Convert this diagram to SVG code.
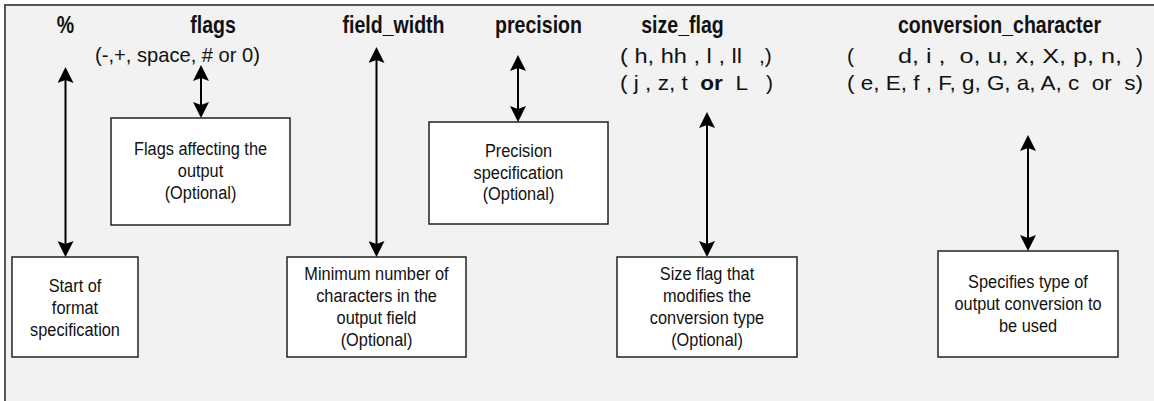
<svg xmlns="http://www.w3.org/2000/svg" width="1154" height="401" viewBox="0 0 1154 401">
<style>
.bg{fill:#f2f2f2;stroke:#555;stroke-width:2}
.box{fill:#fff;stroke:#222;stroke-width:1.5}
.hd{font-family:"Liberation Sans",Arial,sans-serif;font-size:23px;font-weight:bold;fill:#111;text-anchor:middle}
.sub{font-family:"Liberation Sans",Arial,sans-serif;font-size:21px;fill:#111;white-space:pre}
.bt{font-family:"Liberation Sans",Arial,sans-serif;font-size:19px;fill:#111;text-anchor:middle}
.b{font-weight:bold}
.conn line{stroke:#000;stroke-width:2}
</style>
<defs>
<marker id="ah" viewBox="0 0 16 16" refX="12" refY="8" markerWidth="16" markerHeight="16" markerUnits="userSpaceOnUse" orient="auto-start-reverse">
<path d="M0,0 L16,8 L0,16 L3,8 Z" fill="#000"/>
</marker>
</defs>
<rect class="bg" x="5" y="5" width="1170" height="420"/>

<g id="labels">
<text class="hd" transform="translate(65.5 33) scale(0.85 1)">%</text>
<text class="hd" transform="translate(213 33) scale(0.85 1)">flags</text>
<text class="sub" x="95" y="62" textLength="165" lengthAdjust="spacingAndGlyphs">(-,+, space, # or 0)</text>
<text class="hd" transform="translate(393.5 33) scale(0.85 1)">field_width</text>
<text class="hd" transform="translate(538.5 33) scale(0.85 1)">precision</text>
<text class="hd" transform="translate(682.5 33) scale(0.85 1)">size_flag</text>
<text class="sub" x="620" y="63" textLength="122" lengthAdjust="spacingAndGlyphs">( h, hh , l , ll</text>
<text class="sub" x="759" y="63">,)</text>
<text class="sub" xml:space="preserve" x="620" y="90" textLength="128" lengthAdjust="spacingAndGlyphs">( j , z, t  <tspan class="b">or</tspan>  L</text>
<text class="sub" x="766" y="90">)</text>
<text class="hd" transform="translate(999.5 33) scale(0.85 1)">conversion_character</text>
<text class="sub" x="847" y="63">(</text>
<text class="sub" xml:space="preserve" x="898" y="63" textLength="224" lengthAdjust="spacingAndGlyphs">d, i ,  o, u, x, X, p, n,</text>
<text class="sub" x="1136" y="63">)</text>
<text class="sub" xml:space="preserve" x="847" y="90" textLength="296" lengthAdjust="spacingAndGlyphs">( e, E, f , F, g, G, a, A, c  or  s)</text>
</g>

<g id="node-start">
<rect class="box" x="12" y="257" width="126" height="100"/>
<text class="bt" transform="translate(75 291.5) scale(0.86 1)">Start of</text>
<text class="bt" transform="translate(75 313.5) scale(0.86 1)">format</text>
<text class="bt" transform="translate(75 335.5) scale(0.86 1)">specification</text>
</g>

<g id="node-flags">
<rect class="box" x="111" y="118" width="179" height="107"/>
<text class="bt" transform="translate(200.5 155) scale(0.86 1)">Flags affecting the</text>
<text class="bt" transform="translate(200.5 177) scale(0.86 1)">output</text>
<text class="bt" transform="translate(200.5 199) scale(0.86 1)">(Optional)</text>
</g>

<g id="node-width">
<rect class="box" x="287" y="257" width="179" height="100"/>
<text class="bt" transform="translate(376.5 280) scale(0.86 1)">Minimum number of</text>
<text class="bt" transform="translate(376.5 302) scale(0.86 1)">characters in the</text>
<text class="bt" transform="translate(376.5 324) scale(0.86 1)">output field</text>
<text class="bt" transform="translate(376.5 346) scale(0.86 1)">(Optional)</text>
</g>

<g id="node-precision">
<rect class="box" x="429" y="122" width="179" height="102"/>
<text class="bt" transform="translate(518.5 156.5) scale(0.86 1)">Precision</text>
<text class="bt" transform="translate(518.5 178.5) scale(0.86 1)">specification</text>
<text class="bt" transform="translate(518.5 200) scale(0.86 1)">(Optional)</text>
</g>

<g id="node-size">
<rect class="box" x="617" y="257" width="180" height="100"/>
<text class="bt" transform="translate(707 280) scale(0.86 1)">Size flag that</text>
<text class="bt" transform="translate(707 302) scale(0.86 1)">modifies the</text>
<text class="bt" transform="translate(707 324) scale(0.86 1)">conversion type</text>
<text class="bt" transform="translate(707 346) scale(0.86 1)">(Optional)</text>
</g>

<g id="node-conversion">
<rect class="box" x="938" y="251" width="180" height="106"/>
<text class="bt" transform="translate(1028 288) scale(0.86 1)">Specifies type of</text>
<text class="bt" transform="translate(1028 310) scale(0.86 1)">output conversion to</text>
<text class="bt" transform="translate(1028 332) scale(0.86 1)">be used</text>
</g>

<g id="connectors" class="conn">
<line x1="65.5" y1="71" x2="65.5" y2="253" marker-start="url(#ah)" marker-end="url(#ah)"/>
<line x1="201" y1="69" x2="201" y2="114" marker-start="url(#ah)" marker-end="url(#ah)"/>
<line x1="376.5" y1="51" x2="376.5" y2="253" marker-start="url(#ah)" marker-end="url(#ah)"/>
<line x1="518" y1="59" x2="518" y2="118" marker-start="url(#ah)" marker-end="url(#ah)"/>
<line x1="707" y1="116" x2="707" y2="253" marker-start="url(#ah)" marker-end="url(#ah)"/>
<line x1="1028" y1="139" x2="1028" y2="247" marker-start="url(#ah)" marker-end="url(#ah)"/>
</g>
</svg>
